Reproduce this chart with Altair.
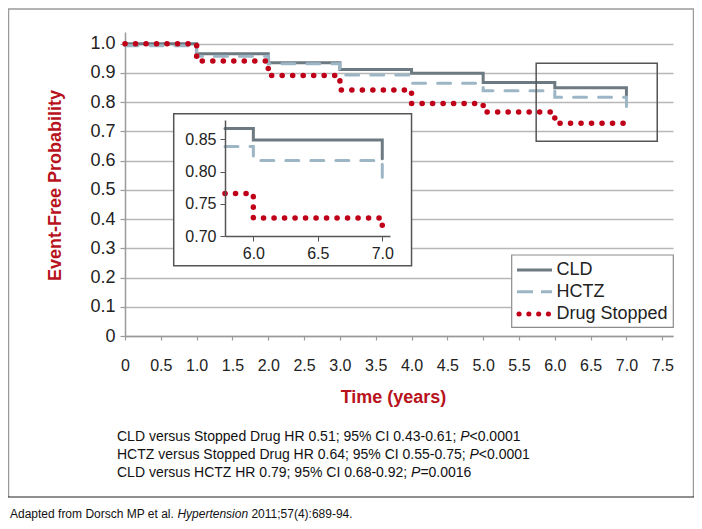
import altair as alt
import pandas as pd

# ---------------- data ----------------
series_names = ["CLD", "HCTZ", "Drug Stopped"]
times = [0, 1, 2, 3, 4, 5, 6, 7]
cld = [1.0, 0.966, 0.935, 0.912, 0.899, 0.867, 0.849, 0.82]
hctz = [0.993, 0.957, 0.931, 0.893, 0.865, 0.839, 0.817, 0.785]
stopped = [1.0, 0.941, 0.891, 0.842, 0.795, 0.766, 0.728, 0.706]

x_ticks = [0, 0.5, 1.0, 1.5, 2.0, 2.5, 3.0, 3.5, 4.0, 4.5, 5.0, 5.5, 6.0, 6.5, 7.0, 7.5]
y_ticks = [0, 0.1, 0.2, 0.3, 0.4, 0.5, 0.6, 0.7, 0.8, 0.9, 1.0]
inset_x_ticks = [6.0, 6.5, 7.0]
inset_y_ticks = [0.70, 0.75, 0.80, 0.85]

zoom_box = {"t": [5.74], "t2": [7.43], "p": [0.666], "p2": [0.933]}
inset_box = {"t": [0.68], "t2": [4.0], "p": [0.24], "p2": [0.76]}

footnotes = [
    ("CLD versus Stopped Drug HR 0.51; 95% CI 0.43-0.61;", "<0.0001"),
    ("HCTZ versus Stopped Drug HR 0.64; 95% CI 0.55-0.75;", "<0.0001"),
    ("CLD versus HCTZ HR 0.79; 95% CI 0.68-0.92;", "=0.0016"),
]

# ---------------- styles ----------------
FONT = "Liberation Sans"
RED = "#b8121c"
INK = "#222222"
colors = ["#6e7a82", "#9db6c5", "#c00018"]
dashes = [[1, 0], [13, 12], [0.1, 10.4]]
widths = [3, 3, 5.5]
# legend key styles (dash, stroke width, cap, inset of the key from its slot)
key_dashes = [[1, 0], [16, 8], [0.1, 9.7]]
key_widths = [3, 3, 5]
key_caps = ["butt", "butt", "round"]
key_inset = [0, 0, 2]

rows = []
for name, vals in zip(series_names, [cld, hctz, stopped]):
    for t, v in zip(times, vals):
        rows.append({"series": name, "t": t, "p": v})
df = pd.DataFrame(rows)

color_enc = alt.Color("series:N", scale=alt.Scale(domain=series_names, range=colors), legend=None)
dash_enc = alt.StrokeDash("series:N", scale=alt.Scale(domain=series_names, range=dashes), legend=None)
width_enc = alt.StrokeWidth("series:N", scale=alt.Scale(type="ordinal", domain=series_names, range=widths), legend=None)

lab_expr = "datum.value == 0 ? '0' : format(datum.value, '.1f')"

x_main = alt.X(
    "t:Q",
    scale=alt.Scale(domain=[0, 7.65], nice=False, zero=False),
    axis=alt.Axis(
        values=x_ticks, labelExpr=lab_expr, title="Time (years)", grid=False,
        domainColor="#9a9a9a", domainWidth=1.5, tickColor="#9a9a9a", tickSize=4, tickWidth=1.2,
        labelFont=FONT, labelFontSize=16, labelColor=INK, labelPadding=17,
        labelFlush=False, labelOverlap=False,
        titleFont=FONT, titleFontSize=18, titleFontWeight="bold", titleColor=RED,
        titleX=268, titleY=61, titleBaseline="middle", zindex=0,
    ),
)
y_main = alt.Y(
    "p:Q",
    scale=alt.Scale(domain=[0, 1.04], nice=False, zero=True),
    axis=alt.Axis(
        values=y_ticks, labelExpr=lab_expr, title="Event-Free Probability",
        grid=True, gridColor="#b8b8b8", gridWidth=1.5,
        domainColor="#9a9a9a", domainWidth=1.5, tickColor="#9a9a9a", tickSize=5, tickWidth=1.2,
        labelFont=FONT, labelFontSize=18, labelColor=INK, labelPadding=5,
        labelFlush=False, labelOverlap=False,
        titleFont=FONT, titleFontSize=18, titleFontWeight="bold", titleColor=RED,
        titleX=-70, titleY=153, titleBaseline="middle", zindex=0,
    ),
)

main_lines = alt.Chart(df).mark_line(interpolate="step-after", strokeCap="round").encode(
    x=x_main, y=y_main, color=color_enc, strokeDash=dash_enc, strokeWidth=width_enc,
    order=alt.Order("t:Q"),
)

zoom_rect = alt.Chart(pd.DataFrame(zoom_box)).mark_rect(
    fillOpacity=0, stroke="#555555", strokeWidth=1.5
).encode(x=x_main, x2="t2", y=y_main, y2="p2")

inset_bg = alt.Chart(pd.DataFrame(inset_box)).mark_rect(
    fill="white", stroke="#555555", strokeWidth=1.5
).encode(x=x_main, x2="t2", y=y_main, y2="p2")

main_group = alt.layer(main_lines, zoom_rect, inset_bg)

inset_lines = alt.Chart(df).transform_filter(alt.datum.t >= 5).mark_line(
    interpolate="step-after", strokeCap="round"
).encode(
    x=alt.X(
        "t:Q",
        scale=alt.Scale(domain=[5.78, 7.06], range=[100, 265], clamp=True, nice=False, zero=False),
        axis=alt.Axis(
            values=inset_x_ticks, format=".1f", orient="bottom", offset=-100, title=None, grid=False,
            domainColor="#555555", domainWidth=1.5, tickColor="#555555", tickSize=5,
            labelFont=FONT, labelFontSize=16, labelColor=INK, labelPadding=4,
            labelFlush=False, labelOverlap=False, zindex=1,
        ),
    ),
    y=alt.Y(
        "p:Q",
        scale=alt.Scale(domain=[0.70, 0.88], range=[204, 88], nice=False, zero=False),
        axis=alt.Axis(
            values=inset_y_ticks, format=".2f", orient="left", offset=-100, title=None, grid=False,
            domainColor="#555555", domainWidth=1.5, tickColor="#555555", tickSize=5,
            labelFont=FONT, labelFontSize=16, labelColor=INK, labelPadding=4,
            labelFlush=False, labelOverlap=False, zindex=1,
        ),
    ),
    color=color_enc, strokeDash=dash_enc, strokeWidth=width_enc,
    order=alt.Order("t:Q"),
)

one = pd.DataFrame({"a": [0]})


def txt(text, x, y, size=14, style="normal", color="#111111", weight="normal"):
    return alt.Chart(one).mark_text(
        text=text, align="left", baseline="middle", font=FONT, fontSize=size,
        fontStyle=style, fontWeight=weight, color=color,
    ).encode(x=alt.value(x), y=alt.value(y))


def rule(x, x2, y, y2, color, w, dash=None, cap="butt"):
    kw = dict(color=color, strokeWidth=w, strokeCap=cap)
    if dash is not None:
        kw["strokeDash"] = dash
    return alt.Chart(one).mark_rule(**kw).encode(
        x=alt.value(x), x2=alt.value(x2), y=alt.value(y), y2=alt.value(y2)
    )


# ---------------- legend (box, keys, labels) ----------------
LEG_X, LEG_Y, LEG_W, LEG_H = 386.7, 223, 161.6, 72.3
key_x0, key_x1, lab_x = 392, 427, 431.5
row_y = [238, 259.7, 282]
legend_parts = [
    alt.Chart(one).mark_rect(fill="white", stroke="#8c8c8c", strokeWidth=1.2).encode(
        x=alt.value(LEG_X), x2=alt.value(LEG_X + LEG_W),
        y=alt.value(LEG_Y), y2=alt.value(LEG_Y + LEG_H),
    )
]
for name, col, kd, kw_, kc, ki, yy in zip(series_names, colors, key_dashes, key_widths, key_caps, key_inset, row_y):
    legend_parts.append(rule(key_x0 + ki, key_x1 - ki, yy, yy, col, kw_, kd, kc))
    legend_parts.append(txt(name, lab_x, yy, size=18, color=INK))

# ---------------- footnotes ----------------
fn_x = -8
fn_y = [405, 423, 441]
p_pos = [335.2, 344.5, 286.1]
annotations = []
for (pre, post), yy, px in zip(footnotes, fn_y, p_pos):
    annotations.append(txt(pre, fn_x, yy))
    annotations.append(txt("P", px, yy, style="italic"))
    annotations.append(txt(post, px + 9.3, yy))

annotations.append(txt("Adapted from Dorsch MP et al.", -115, 482, size=12))
annotations.append(txt("Hypertension", 52.4, 482, size=12, style="italic"))
annotations.append(txt("2011;57(4):689-94.", 126.4, 482, size=12))

frame = [
    rule(-117, 569, -23, -23, "#9a9a9a", 1.5),
    rule(-116.5, -116.5, -23, 465, "#9a9a9a", 1.5),
    rule(568.5, 568.5, -23, 465, "#9a9a9a", 1.5),
    rule(-117, 569, 465, 465, "#222222", 1.2),
]

chart = alt.layer(main_group, inset_lines, *legend_parts, *annotations, *frame).resolve_scale(
    x="independent", y="independent"
).properties(
    width=548, height=304,
    padding={"left": 117, "top": 24, "right": 21, "bottom": 185},
    autosize=alt.AutoSizeParams(type="none"),
).configure_view(stroke=None)

chart.save("out.html", embed_options={"renderer": "svg", "actions": False})
